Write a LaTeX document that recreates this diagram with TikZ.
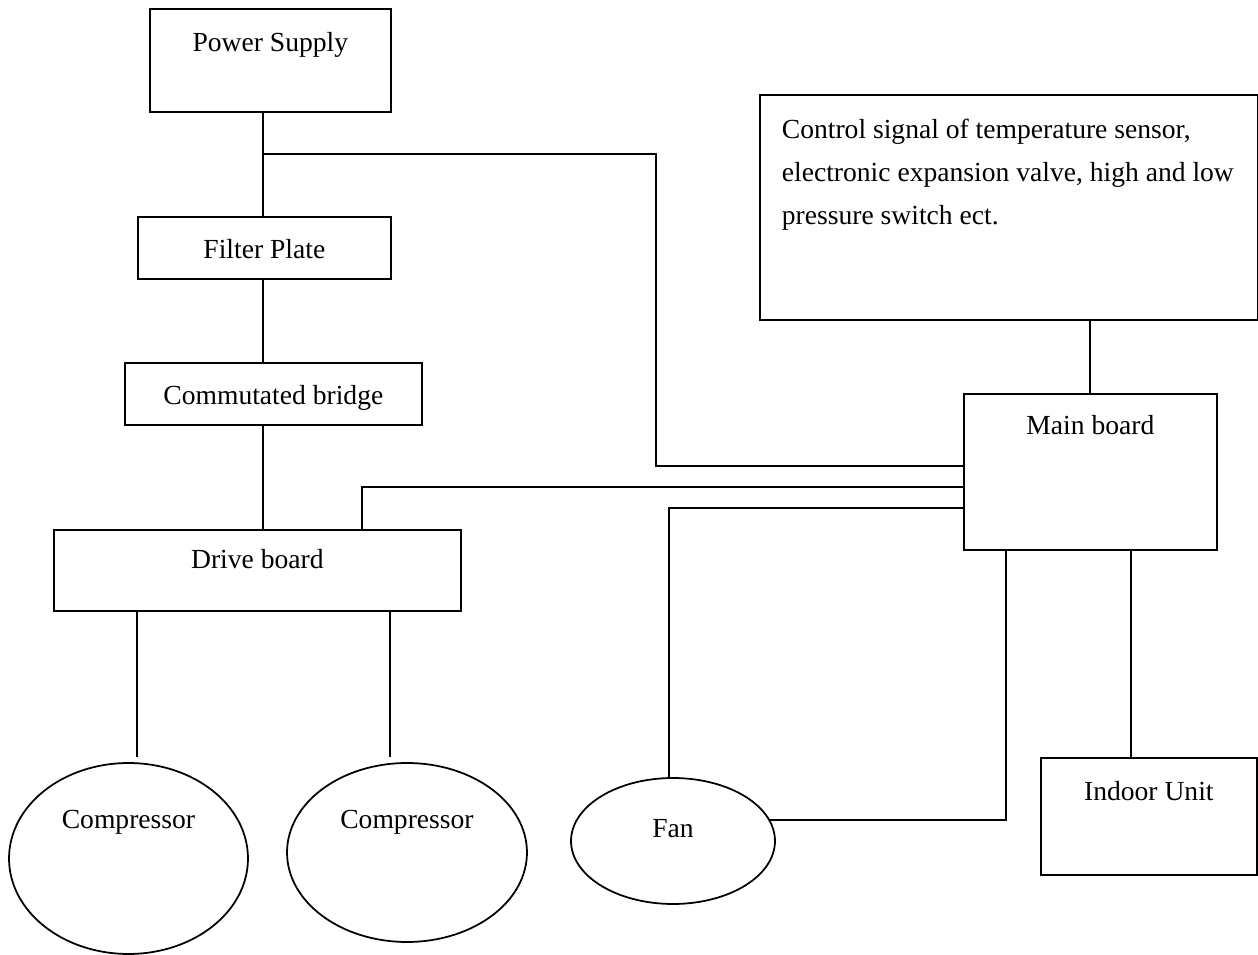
\documentclass[tikz,border=0pt]{standalone}
\usepackage{fontspec}
\setmainfont{Liberation Serif}
\usetikzlibrary{shapes.geometric}
\begin{document}
\begin{tikzpicture}[x=0.02cm, y=-0.02cm, line width=1pt,
    font=\fontsize{15.7}{24.4}\selectfont,
    bloque/.style={draw, rectangle, inner sep=0pt, anchor=north west},
    elipse/.style={draw, ellipse, inner sep=0pt}]
    \useasboundingbox (0,0) rectangle (1258,955);

    % Cadena de potencia
    \node[bloque, minimum width=4.82cm, minimum height=2.06cm,
          label={[anchor=base, label distance=-0.88cm]north:Power Supply}] (ps) at (149,8) {};
    \node[bloque, minimum width=5.06cm, minimum height=1.24cm,
          label={[anchor=base, label distance=-0.86cm]north:Filter Plate}] (filter) at (137,216) {};
    \node[bloque, minimum width=5.94cm, minimum height=1.24cm,
          label={[anchor=base, label distance=-0.86cm]north:Commutated bridge}] (bridge) at (124,362) {};
    \node[bloque, minimum width=8.14cm, minimum height=1.62cm,
          label={[anchor=base, label distance=-0.80cm]north:Drive board}] (drive) at (53,529) {};

    % Control
    \node[bloque, minimum width=9.96cm, minimum height=4.5cm] (ctrl) at (759,94) {};
    \node[anchor=north west, align=left, inner sep=0pt] (ctrltxt) at (781,118)
        {Control signal of temperature sensor,\\electronic expansion valve, high and low\\pressure switch ect.};
    \node[bloque, minimum width=5.06cm, minimum height=3.12cm,
          label={[anchor=base, label distance=-0.84cm]north:Main board}] (main) at (963,393) {};
    \node[bloque, minimum width=4.32cm, minimum height=2.34cm,
          label={[anchor=base, label distance=-0.88cm]north:Indoor Unit}] (indoor) at (1040,757) {};

    % Cargas
    \node[elipse, minimum width=4.78cm, minimum height=3.82cm,
          label={[anchor=base, label distance=-1.32cm]north:Compressor}] (comp1) at (128.5,858.5) {};
    \node[elipse, minimum width=4.8cm, minimum height=3.58cm,
          label={[anchor=base, label distance=-1.32cm]north:Compressor}] (comp2) at (407,852.5) {};
    \node[elipse, minimum width=4.08cm, minimum height=2.52cm,
          label={[anchor=base, label distance=-1.20cm]north:Fan}] (fan) at (673,841) {};

    % Puntos de quiebre
    \coordinate (jn) at (263,154);
    \coordinate (bendps) at (656,466);
    \coordinate (benddrive) at (362,487);
    \coordinate (bendfan) at (669,508);
    \coordinate (fanx) at (1006,549);
    \coordinate (indx) at (1131,549);
    \coordinate (c1) at (137,757);
    \coordinate (c2) at (390,757);

    % Conexiones
    \draw (ps.south -| jn) -- (filter.north -| jn);
    \draw (filter.south -| jn) -- (bridge.north -| jn);
    \draw (bridge.south -| jn) -- (drive.north -| jn);
    \draw (jn) -| (bendps) -- (bendps -| main.west);
    \draw (drive.north -| benddrive) -- (benddrive) -- (benddrive -| main.west);
    \draw (bendfan -| main.west) -- (bendfan) -- (fan.north -| bendfan);
    \draw (fan.12) -| (fanx);
    \draw (indx) -- (indx |- indoor.north);
    \draw (main.north) -- (main.north |- ctrl.south);
    \draw (drive.south -| c1) -- (c1);
    \draw (drive.south -| c2) -- (c2);
\end{tikzpicture}
\end{document}
